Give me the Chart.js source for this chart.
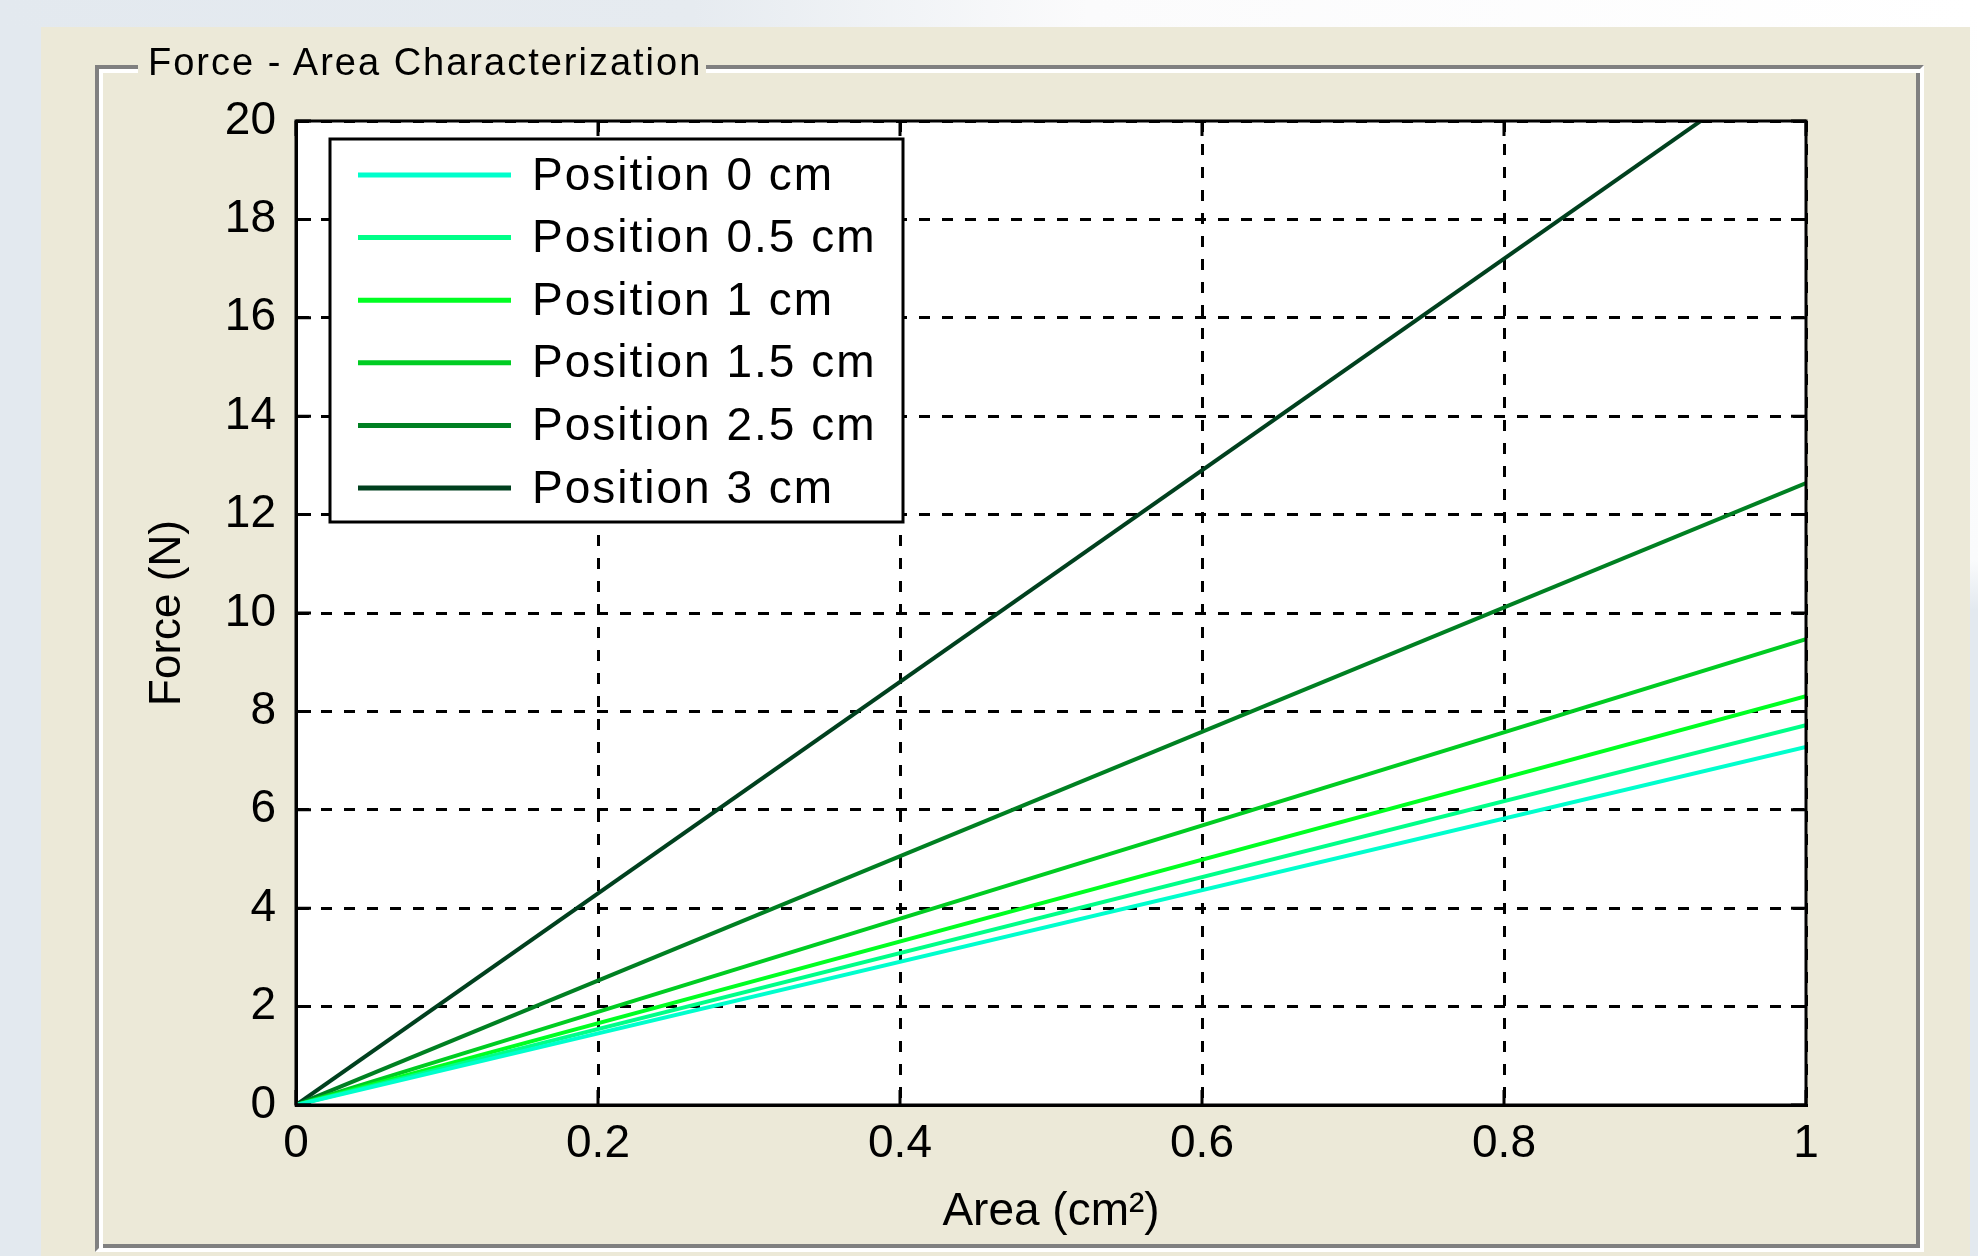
<!DOCTYPE html>
<html>
<head>
<meta charset="utf-8">
<title>Force - Area Characterization</title>
<script src="https://cdn.jsdelivr.net/npm/chart.js@4.4.0/dist/chart.umd.min.js"></script>
<style>
  html, body { margin: 0; padding: 0; }
  body { width: 1978px; height: 1256px; position: relative; overflow: hidden; background: #e3e9ef; }
  .top-strip { position: absolute; left: 0; top: 0; width: 1978px; height: 27px;
    background: linear-gradient(to right, #e3e9ef 0%, #e6ebf0 35%, #fbfbfc 55%, #fff 100%); }
  .right-strip { position: absolute; left: 1970px; top: 0; width: 8px; height: 1256px;
    background: linear-gradient(to bottom, #fff 0px, #fafbfc 560px, #e3e9ef 610px); }
  .panel { position: absolute; left: 41px; top: 27px; width: 1929px; height: 1229px; background: #ece9d8; }
  .group { position: absolute; left: 95px; top: 65px; width: 1829px; height: 1187px; box-sizing: border-box;
    border-style: solid; border-width: 4px; border-color: #808080 #fff #fff #808080;
    box-shadow: inset 4px 4px 0 #fff, inset -4px -4px 0 #808080; }
  .group-title { position: absolute; left: 138px; top: 43px; padding: 0 4px 0 10px; background: #ece9d8;
    font: 38px/1 "Liberation Sans", Arial, sans-serif; letter-spacing: 2px; color: #000; z-index: 3; }
  #chart { position: absolute; left: 0; top: 0; z-index: 2; }
</style>
</head>
<body>
<div class="top-strip"></div>
<div class="right-strip"></div>
<div class="panel"></div>
<div class="group"></div>
<span class="group-title">Force - Area Characterization</span>
<canvas id="chart" width="1978" height="1256"></canvas>
<script>
// area (cm^2) at the two ends of each line
const area = [0, 1];

// force (N) read at area 0 and area 1
const force0 = [0, 7.28];
const force05 = [0, 7.72];
const force1 = [0, 8.31];
const force15 = [0, 9.47];
const force25 = [0, 12.64];
const force3 = [0, 21.5];

const labels = ["Position 0 cm", "Position 0.5 cm", "Position 1 cm", "Position 1.5 cm", "Position 2.5 cm", "Position 3 cm"];
const colors = ["#00ffcc", "#00ff88", "#00ff22", "#00cc22", "#008022", "#00401e"];
const series = [force0, force05, force1, force15, force25, force3];

const FONT = '"Liberation Sans", Arial, sans-serif';

// white axes background
const axesBg = {
  id: "axesBg",
  beforeDraw(chart) {
    const { ctx, chartArea: a } = chart;
    ctx.save();
    ctx.fillStyle = "#fff";
    ctx.fillRect(a.left, a.top, a.right - a.left, a.bottom - a.top);
    ctx.restore();
  }
};

// box on all four sides and inward ticks, like matlab
const axesBox = {
  id: "axesBox",
  afterDatasetsDraw(chart) {
    const { ctx, chartArea: a, scales } = chart;
    const len = 15;
    ctx.save();
    ctx.strokeStyle = "#000";
    ctx.lineWidth = 3;
    ctx.beginPath();
    scales.x.ticks.forEach((t) => {
      const px = scales.x.getPixelForValue(t.value);
      ctx.moveTo(px, a.bottom); ctx.lineTo(px, a.bottom - len);
      ctx.moveTo(px, a.top); ctx.lineTo(px, a.top + len);
    });
    scales.y.ticks.forEach((t) => {
      const py = scales.y.getPixelForValue(t.value);
      ctx.moveTo(a.left, py); ctx.lineTo(a.left + len, py);
      ctx.moveTo(a.right, py); ctx.lineTo(a.right - len, py);
    });
    ctx.stroke();
    ctx.strokeRect(a.left, a.top, a.right - a.left, a.bottom - a.top);
    ctx.restore();
  }
};

// legend box in the upper left corner of the axes
const legendBox = {
  id: "legendBox",
  afterDraw(chart) {
    const { ctx, chartArea: a } = chart;
    const x = a.left + 34, y = a.top + 18, w = 573, h = 383;
    ctx.save();
    ctx.fillStyle = "#fff";
    ctx.fillRect(x, y, w, h);
    ctx.strokeStyle = "#000";
    ctx.lineWidth = 3;
    ctx.strokeRect(x, y, w, h);
    ctx.font = "46px " + FONT;
    ctx.textBaseline = "middle";
    ctx.letterSpacing = "2px";
    chart.data.datasets.forEach((ds, i) => {
      const cy = y + 36 + i * 62.6;
      ctx.strokeStyle = ds.borderColor;
      ctx.lineWidth = 5;
      ctx.beginPath();
      ctx.moveTo(x + 28, cy); ctx.lineTo(x + 181, cy);
      ctx.stroke();
      ctx.fillStyle = "#000";
      ctx.fillText(ds.label, x + 202, cy + 2);
    });
    ctx.restore();
  }
};

const chart1 = () => {
  const canvas = document.getElementById("chart");
  const ctx = canvas.getContext("2d");

  new Chart(ctx, {
    type: "line",
    data: {
      datasets: series.map((f, i) => ({
        label: labels[i],
        data: area.map((a, j) => ({ x: a, y: f[j] })),
        borderColor: colors[i],
        backgroundColor: colors[i],
        borderWidth: 4,
        pointRadius: 0,
        tension: 0,
        clip: 0
      }))
    },
    options: {
      responsive: false,
      animation: false,
      layout: {
        padding: { left: 0, top: 121, right: 172, bottom: 0 }
      },
      plugins: {
        legend: { display: false },
        tooltip: { enabled: false }
      },
      scales: {
        x: {
          type: "linear",
          min: 0,
          max: 1,
          ticks: {
            stepSize: 0.2, padding: 12, color: "#000", font: { family: FONT, size: 46 },
            callback: (v) => String(Number(v.toFixed(2)))
          },
          grid: { color: "#000", lineWidth: 3, drawTicks: false },
          border: { color: "#000", width: 3, dash: [11, 12] },
          title: { display: true, text: "Area (cm²)", color: "#000", font: { family: FONT, size: 46 }, padding: { top: 0, bottom: 16 } },
          afterFit: (s) => { s.height = 151; }
        },
        y: {
          type: "linear",
          min: 0,
          max: 20,
          ticks: { stepSize: 2, padding: 20, color: "#000", font: { family: FONT, size: 46 } },
          grid: { color: "#000", lineWidth: 3, drawTicks: false },
          border: { color: "#000", width: 3, dash: [11, 12] },
          title: { display: true, text: "Force (N)", color: "#000", font: { family: FONT, size: 44 }, padding: { top: 141, bottom: 0 } },
          afterFit: (s) => { s.width = 296; }
        }
      }
    },
    plugins: [axesBg, axesBox, legendBox]
  });
};

chart1();
</script>
</body>
</html>
